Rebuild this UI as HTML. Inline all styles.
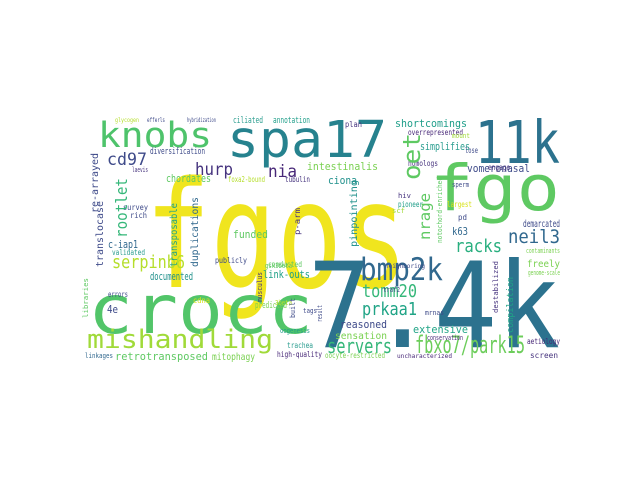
<!DOCTYPE html>
<html><head><meta charset="utf-8"><style>
html,body{margin:0;padding:0;background:#fff;width:640px;height:480px;overflow:hidden}
svg text{font-family:"DejaVu Sans Mono","Liberation Mono",monospace}
</style></head><body>
<svg id="cloud" width="640" height="480" viewBox="0 0 640 480" xmlns="http://www.w3.org/2000/svg">
<rect x="80" y="112" width="480" height="258" fill="#fff"/>
</svg>
<script>
// word, x, baseline y, font size, width (0 = natural), color, rotated
const words = ["fgos","crocc","7.4k","fgo","spa17","11k","knobs","mishandling","bmp2k","fbxo7/park15","servers","serpinb6","tomm20","prkaa1","racks","neil3","hurp","nia","cd97","shortcomings","simplifies","intestinalis","vomeronasal","chordates","ciona","funded","c-iap1","documented","link-outs","reasoned","extensive","sensation","retrotransposed","mitophagy","k63","4e","predicted","annotation","ciliated","diversification","overrepresented","freely","demarcated","publicly","high-quality","trachea","tubulin","foxa2-bound","laevis","survey","rich","validated","errors","cdna","conducted","homologs","lose","engage","pioneer","largest","pd","conservation","oogenesis","tags","linkages","oet","rootlet","nrage","re-arrayed","translocase","transposable","duplications","pinpointing","compilation","p-arm","notochord-enriched","destabilized","3beta","gsk3beta","glycogen","efferls","hybridization","plan","mount","sperm","scf","hiv","musculus","libraries","built","result","traf2","mrnas","genome-scale","aetiology","screen","contaminants","oocyte-restricted","uncharacterized","neighboring"];
const xs = [145,88,308,430,227,475,98,87,360,415,327,112,362,362,455,508,195,268,107,395,420,307,467,166,328,233,108,150,263,340,413,335,115,212,452,107,255,273,233,150,408,527,523,215,277,287,285,228,132,123,130,112,108,193,268,408,465,488,398,447,458,427,280,303,85,420,127,430,98,103,177,198,357,513,300,442,498,275,265,115,147,187,345,452,452,392,398,262,88,295,322,383,425,528,527,530,526,325,397,385];
const ys = [287,333,347,210,157,163,147,348,280,353,353,268,297,315,252,243,175,177,165,127,150,170,172,182,184,238,248,280,278,328,333,339,360,360,235,313,308,123,123,154,135,267,227,263,357,348,182,182,172,210,218,255,297,303,267,166,153,170,207,207,220,340,333,313,358,180,238,240,213,267,267,267,247,333,235,243,313,305,268,122,122,122,127,138,187,213,198,302,318,318,322,292,315,275,344,358,253,358,358,268];
const sizes = [148,68,119,63,51,59,35,26,31,24,20,18,18,18,18,19,17,17,17,11,11,11,11,11,11,11,11,11,11,11,11,10,11,10,11,11,9,9,9,9,8,10,10,8,8,8,8,8,7,8,8,8,8,8,8,8,8,8,8,8,8,7,7,7,7,24,16,15,10,10,10,10,10,9,8,7,7,7,7,6,6,6,8,7,7,7,7,7,7,7,7,7,7,7,8,8,7,8,6,6];
const widths = [263,225,252,130,160,85,114,186,83,110,65,73,55,55,47,52,38,29,40,72,50,71,63,45,29,35,30,43,47,47,55,52,93,43,16,11,32,37,30,55,55,33,37,32,45,26,25,37,16,25,17,33,20,17,34,30,13,22,25,25,9,36,30,14,28,47,60,47,60,66,64,70,67,56,27,66,52,17,27,24,18,29,17,18,17,13,13,30,40,20,17,17,19,32,33,28,34,60,55,40];
const colors = ["#f0e51e","#52c569","#2c728e","#5ec962","#26828e","#2c728e","#4ec36b","#a0da39","#31688e","#6ccd5a","#35b779","#b5de2b","#35b779","#20a486","#29af7f","#31688e","#46337e","#482878","#3e4a89","#1f9e89","#2a9d8f","#7ad151","#3e4a89","#5ec962","#21918c","#5ec962","#31688e","#21918c","#1fa187","#3e4a89","#20a486","#7ad151","#5ec962","#7ad151","#31688e","#3e4a89","#7ad151","#1f9e89","#2a9d8f","#3e4a89","#482878","#7ad151","#3e4a89","#3e4a89","#482878","#2a9d8f","#46337e","#b5de2b","#46337e","#3e4a89","#3e4a89","#2a9d8f","#3e4a89","#d8e219","#5ec962","#46337e","#3e4a89","#46337e","#1f9e89","#d8e219","#3e4a89","#482878","#1f9e89","#3e4a89","#31688e","#5ec962","#35b779","#5ec962","#3e4a89","#3e4a89","#20a486","#31688e","#21918c","#20a486","#46337e","#5ec962","#46337e","#b5de2b","#5ec962","#b5de2b","#3e4a89","#3e4a89","#46337e","#a0da39","#3e4a89","#a0da39","#46337e","#46337e","#5ec962","#3e4a89","#3e4a89","#3e4a89","#3e4a89","#7ad151","#482878","#46337e","#7ad151","#7ad151","#482878","#3e4a89"];
const rotated = [0,0,0,0,0,0,0,0,0,0,0,0,0,0,0,0,0,0,0,0,0,0,0,0,0,0,0,0,0,0,0,0,0,0,0,0,0,0,0,0,0,0,0,0,0,0,0,0,0,0,0,0,0,0,0,0,0,0,0,0,0,0,0,0,0,1,1,1,1,1,1,1,1,1,1,1,1,0,0,0,0,0,0,0,0,0,0,1,1,1,1,0,0,0,0,0,0,0,0,0];

const svg = document.getElementById('cloud');
const NS = 'http://www.w3.org/2000/svg';
for (let i = 0; i < words.length; i++) {
  const t = document.createElementNS(NS, 'text');
  
  
  t.setAttribute('x', xs[i]);
  t.setAttribute('y', ys[i]);
  t.setAttribute('font-size', sizes[i]);
  t.setAttribute('fill', colors[i]);
  if (widths[i] > 0) {
    t.setAttribute('textLength', widths[i]);
    t.setAttribute('lengthAdjust', 'spacingAndGlyphs');
  }
  if (rotated[i]) t.setAttribute('transform', 'rotate(-90 ' + xs[i] + ' ' + ys[i] + ')');
  t.textContent = words[i];
  svg.appendChild(t);
}
</script>
</body></html>
